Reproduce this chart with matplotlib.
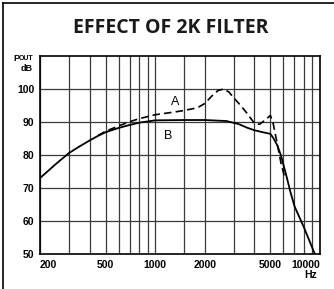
import matplotlib
matplotlib.use("Agg")
import matplotlib.pyplot as plt
from matplotlib.lines import Line2D

# curve B (solid) - without filter
freq_b = [200, 250, 300, 350, 400, 450, 500, 600, 700, 800, 1000, 1500, 2000,
          2700, 3200, 3600, 4000, 4500, 5000, 5200, 5500, 5800, 6200, 6600,
          7000, 8000, 9300]
db_b = [73.0, 77.3, 80.6, 82.7, 84.4, 85.8, 86.9, 88.2, 89.1, 89.8, 90.5,
        90.6, 90.6, 90.3, 89.4, 88.3, 87.5, 86.9, 86.4, 85.2, 83.0, 79.8,
        74.4, 69.0, 64.5, 58.0, 50.0]

# curve A (dashed) - with 2k filter
freq_a = [450, 500, 600, 700, 800, 1000, 1300, 1500, 1800, 2000, 2200, 2400,
          2600, 2800, 3000, 3300, 3600, 4000, 4300, 4700, 5000, 5200, 5500,
          5800, 6100]
db_a = [85.9, 87.2, 88.8, 90.1, 91.0, 92.2, 93.0, 93.5, 94.3, 95.6, 97.8,
        99.5, 100.0, 99.1, 97.3, 95.0, 92.7, 89.6, 89.3, 90.8, 92.0, 89.5,
        83.5, 77.5, 73.3]

x_grid = [200, 300, 400, 500, 600, 700, 800, 900, 1000, 1500, 2000, 3000,
          4000, 5000, 6000, 7000, 8000, 9000, 10000]
x_labels = [200, 500, 1000, 2000, 5000, 10000]
y_ticks = [50, 60, 70, 80, 90, 100]

fig = plt.figure(figsize=(3.34, 2.89), dpi=100)
ax = fig.add_axes([40 / 334, 35 / 289, 280 / 334, 198 / 289])

for xv in x_grid:
    ax.axvline(xv, color="#3a3a3a", lw=0.9, zorder=1)
for yv in [60, 70, 80, 90, 100]:
    ax.axhline(yv, color="#3a3a3a", lw=0.9, zorder=1)

ax.plot(freq_b, db_b, color="black", lw=1.3, zorder=3)
ax.plot(freq_a, db_a, color="black", lw=1.2, ls=(0, (4.5, 2.5)), zorder=3)

ax.set_xscale("log")
ax.set_xlim(200, 10000)
ax.set_ylim(50, 110)
ax.minorticks_off()
ax.set_xticks(x_labels, [str(v) for v in x_labels])
ax.set_yticks(y_ticks, [str(v) for v in y_ticks])
ax.tick_params(length=0, labelsize=7.5, pad=4)
for lab in ax.get_xticklabels() + ax.get_yticklabels():
    lab.set_fontfamily("Liberation Sans")
    lab.set_fontweight("bold")
xl = ax.get_xticklabels()
xl[0].set_horizontalalignment("left")
xl[-1].set_horizontalalignment("right")
for s in ax.spines.values():
    s.set_linewidth(1.2)
    s.set_color("black")

ax.text(1320, 96.2, "A", fontsize=9, family="Liberation Sans", ha="center", va="center")
ax.text(1200, 85.8, "B", fontsize=9, family="Liberation Sans", ha="center", va="center")

ax.annotate("Hz", xy=(1, 0), xycoords="axes fraction", xytext=(-2, -15),
            textcoords="offset points", ha="right", va="center", fontsize=7.5,
            family="Liberation Sans", fontweight="bold")
ax.annotate("dB", xy=(0, 1), xycoords="axes fraction", xytext=(-5, -9),
            textcoords="offset points", ha="right", va="center", fontsize=6.5,
            family="Liberation Sans", fontweight="bold")
ax.annotate("P", xy=(0, 1), xycoords="axes fraction", xytext=(-14.5, -1.5),
            textcoords="offset points", ha="right", va="center", fontsize=6.5,
            family="Liberation Sans", fontweight="bold")
ax.annotate("OUT", xy=(0, 1), xycoords="axes fraction", xytext=(-5, -2),
            textcoords="offset points", ha="right", va="center", fontsize=5,
            family="Liberation Sans", fontweight="bold")

fig.text(171 / 334, 1 - 28 / 289, "EFFECT OF 2K FILTER", ha="center", va="center",
         fontsize=14, family="Open Sans", fontweight="bold", color="#1a1a1a")

# frame at top and left of the figure
fig.add_artist(Line2D([3 / 334, 1], [1 - 3 / 289, 1 - 3 / 289], color="black", lw=1.2))
fig.add_artist(Line2D([3 / 334, 3 / 334], [0, 1 - 3 / 289], color="black", lw=1.2))

fig.savefig("out.png", dpi=100)
plt.close()
